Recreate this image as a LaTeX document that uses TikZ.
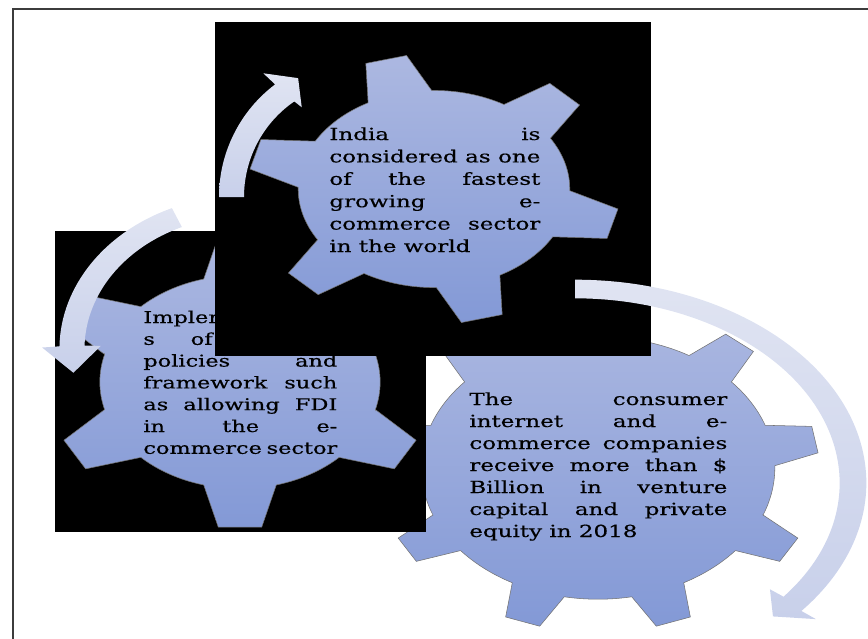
\documentclass[tikz,border=0pt]{standalone}
\usepackage{fontspec}
\newfontfamily\gearfont[FakeBold=0.4]{DejaVu Serif}
\usepackage{tikz}

\definecolor{gearTop}{RGB}{172,184,225}
\definecolor{gearBot}{RGB}{131,153,214}
\definecolor{arrLight}{RGB}{224,228,242}
\definecolor{arrDark}{RGB}{200,208,234}
\definecolor{frameGray}{RGB}{60,60,60}

\tikzset{
	gearbody/.style={top color=gearTop,bottom color=gearBot,draw=black!55,line width=0.4pt},
	bgsquare/.style={fill=black},
	circarrow/.style={top color=arrLight,bottom color=arrDark},
	gtext/.style={inner sep=0pt,anchor=base west,font=\gearfont,xscale=1.38,transform shape},
	frameline/.style={draw=frameGray,line width=1.5pt}
}

% one justified line of a gear label
\newcommand{\jline}[1]{\makebox[\linewidth][s]{#1}\\}

% gear: center, x radius, y radius, teeth, first tooth angle,
% body radius, half angle at tooth root, half angle at tooth tip
\newcommand{\drawgear}[8]{%
	\begin{scope}[shift={#1}, xscale=#2, yscale=#3]
		\pgfmathsetmacro\gstep{360/#4}
		\path[gearbody]
		({#5-#7}:#6)
		foreach \k in {1,...,#4}{
			-- ({#5+(\k-1)*\gstep-#7}:#6)
			-- ({#5+(\k-1)*\gstep-#8}:1)
			-- ({#5+(\k-1)*\gstep+#8}:1)
			-- ({#5+(\k-1)*\gstep+#7}:#6)
			arc[start angle={#5+(\k-1)*\gstep+#7}, end angle={#5+\k*\gstep-#7}, radius=#6]
		} -- cycle;
	\end{scope}%
}

\begin{document}
\begin{tikzpicture}[x=0.75pt,y=-0.75pt]
	\useasboundingbox (0,0) rectangle (868,639);
	
	% -------------------------------------------------
	% 1. Frame
	% -------------------------------------------------
	\draw[frameline] (13,650) -- (13,9) -- (880,9);
	
	% -------------------------------------------------
	% 2. Large gear (funding)
	% -------------------------------------------------
	\drawgear{(598,468)}{221}{164}{9}{30}{0.80}{9}{4.7}
	\node[gtext] (tFunds) at (469,405) {\parbox[t]{140.2pt}{\fontsize{12.5}{16.5}\selectfont
			\jline{The consumer}
			\jline{internet and e-}
			\jline{commerce companies}
			\jline{receive more than \$}
			\jline{Billion in venture}
			\jline{capital and private}
			equity in 2018}};
	
	% -------------------------------------------------
	% 3. Left gear (policy)
	% -------------------------------------------------
	\fill[bgsquare] (55,231) rectangle (426,532);
	\drawgear{(240,382)}{192}{146}{6}{30}{0.73}{15}{6.5}
	\node[gtext] (tPolicy) at (143,323) {\parbox[t]{105.4pt}{\fontsize{12.2}{16.35}\selectfont
			Implementation\\
			s\hspace{19.5pt}of\\
			\jline{policies and}
			\jline{framework such}
			\jline{as allowing FDI}
			\jline{in the e-}
			commerce sector}};
	
	% -------------------------------------------------
	% 4. Top gear (growth)
	% -------------------------------------------------
	\fill[bgsquare] (215,22) rectangle (651,356);
	\drawgear{(434,189)}{186}{135}{6}{15}{0.73}{14}{6.5}
	\node[gtext] (tIndia) at (329,140) {\parbox[t]{114.7pt}{\fontsize{12.5}{16.8}\selectfont
			\jline{India is}
			\jline{considered as one}
			\jline{of the fastest}
			\jline{growing e-}
			\jline{commerce sector}
			in the world}};
	
	% -------------------------------------------------
	% 5. Circular arrows
	% -------------------------------------------------
	% left gear -> top gear
	\begin{scope}[shift={(360,197)}]
		\path[circarrow] (180:141) arc[start angle=180,end angle=233,radius=141]
		-- (232:157) -- (242.5:134) -- (237:107) -- (235.5:116)
		arc[start angle=235.5,end angle=180,radius=116] -- cycle;
	\end{scope}
	
	% top gear -> left gear
	\begin{scope}[shift={(246,349)}, xscale=175, yscale=144]
		\path[circarrow] (246.6:1.066) arc[start angle=246.6,end angle=181,radius=1.066]
		-- (180.5:1.165) -- (170.5:1.0) -- (181.5:0.83) -- (181.5:0.923)
		arc[start angle=181.5,end angle=246.6,radius=0.923] -- cycle;
	\end{scope}
	
	% top gear -> large gear
	\begin{scope}[shift={(575,483)}, xscale=278, yscale=194]
		\path[circarrow] (270:1.048) arc[start angle=270,end angle=399,radius=1.048]
		-- (399:1.115) -- (44:0.99) -- (398:0.89) -- (398:0.952)
		arc[start angle=398,end angle=270,radius=0.952] -- cycle;
	\end{scope}
	
\end{tikzpicture}
\end{document}
